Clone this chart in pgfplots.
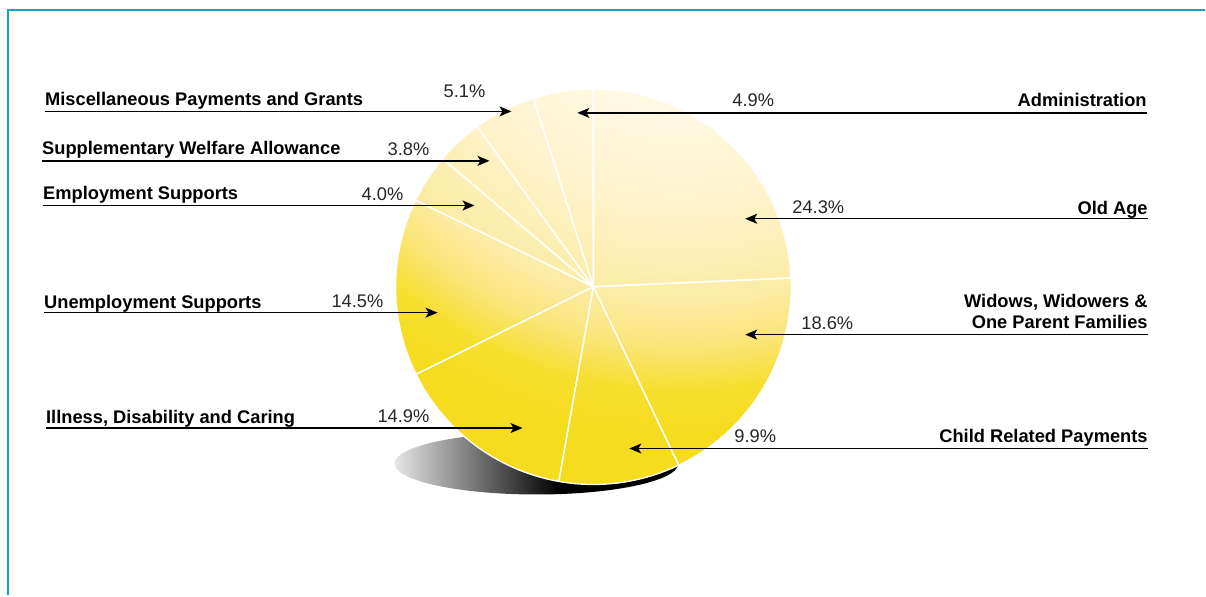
\documentclass[border=0pt]{standalone}
\usepackage{pgfplots}
\pgfplotsset{compat=1.18}
\usepackage{pgfplotstable}
\usetikzlibrary{arrows.meta}
\usepackage{fontspec}
\setmainfont{Liberation Sans}

\definecolor{frame}{HTML}{17A2C2}
\definecolor{pieA}{HTML}{FFFCEE}
\definecolor{pieB}{HTML}{FFF8E2}
\definecolor{pieC}{HTML}{FEF3CC}
\definecolor{pieD}{HTML}{FCECA8}
\definecolor{pieE}{HTML}{FAE57A}
\definecolor{pieF}{HTML}{F7DF30}
\definecolor{pieG}{HTML}{F6DC1F}

% concentric glow; its centre lies well above the disc
\pgfdeclareradialshading{pieshade}{\pgfpoint{0bp}{0bp}}{%
  color(0bp)=(pieA); color(5.7bp)=(pieB); color(9bp)=(pieC); color(12.3bp)=(pieD);
  color(14bp)=(pieE); color(15.6bp)=(pieF); color(17bp)=(pieG); color(50bp)=(pieG)}
\pgfdeclarehorizontalshading{shadowshade}{100bp}{%
  color(0bp)=(black!10); color(25bp)=(black!10); color(54bp)=(black); color(100bp)=(black)}

% share of spending, counter-clockwise from 12 o'clock
\pgfplotstableread{
pct name
4.9  Administration
5.1  Misc
3.8  Supplementary
4.0  Employment
14.5 Unemployment
14.9 Illness
9.9  Child
18.6 Widows
24.3 OldAge
}\piedata

\tikzset{
  lab/.style={font=\bfseries\fontsize{18.3}{20}\selectfont, inner sep=0pt},
  pct/.style={font=\fontsize{18.3}{20}\selectfont, text=black!85, inner sep=0pt},
  arr/.style={-{Stealth[length=12pt,width=10pt,inset=3pt]}, line width=1.4pt},
}

\begin{document}
\begin{tikzpicture}
\begin{axis}[
  scale only axis, width=1206pt, height=596pt,
  xmin=0, xmax=1206, ymin=0, ymax=596,
  hide axis, clip=false,
]
\path (axis cs:0,0) rectangle (axis cs:1206,596);
\draw[frame, line width=2.5pt] (axis cs:8,0) -- (axis cs:8,586) -- (axis cs:1206,586);

% shadow and disc
\shade[shading=shadowshade] (axis cs:537,132) ellipse[x radius=142pt, y radius=31pt];
\path[path picture={\shade[shading=pieshade]
    ([shift={(87pt,333pt)}]path picture bounding box.center) circle[radius=700pt];}]
  (axis cs:594,309) circle[radius=198pt];

% slice edges
\pgfplotstablegetrowsof{\piedata}
\pgfmathtruncatemacro\lastrow{\pgfplotsretval-1}
\def\angstart{90}
\pgfplotsforeachungrouped \i in {0,...,\lastrow}{%
  \pgfplotstablegetelem{\i}{pct}\of\piedata
  \pgfmathsetmacro\angend{\angstart+3.6*\pgfplotsretval}%
  \edef\slice{\noexpand\draw[white, line width=1.3pt, line join=round]
    (axis cs:594,309) -- ++(\angstart:198pt)
    arc[start angle=\angstart, end angle=\angend, radius=198pt] -- cycle;}%
  \slice
  \let\angstart\angend
}

% left labels
\draw[arr] (axis cs:45,484.5) -- (axis cs:512,484.5);
\node[lab, anchor=base west] at (axis cs:45,490) {Miscellaneous Payments and Grants};
\node[pct, anchor=base east] at (axis cs:486,498) {5.1\%};

\draw[arr] (axis cs:42,435) -- (axis cs:490,435);
\node[lab, anchor=base west] at (axis cs:42,441) {Supplementary Welfare Allowance};
\node[pct, anchor=base east] at (axis cs:430,440) {3.8\%};

\draw[arr] (axis cs:43,390.3) -- (axis cs:475,390.3);
\node[lab, anchor=base west] at (axis cs:43,396) {Employment Supports};
\node[pct, anchor=base east] at (axis cs:404,395) {4.0\%};

\draw[arr] (axis cs:44,283) -- (axis cs:438,283);
\node[lab, anchor=base west] at (axis cs:44,287) {Unemployment Supports};
\node[pct, anchor=base east] at (axis cs:384,288) {14.5\%};

\draw[arr] (axis cs:46,167.5) -- (axis cs:523,167.5);
\node[lab, anchor=base west] at (axis cs:46,172) {Illness, Disability and Caring};
\node[pct, anchor=base east] at (axis cs:430,173) {14.9\%};

% right labels
\draw[arr] (axis cs:1148,483) -- (axis cs:578,483);
\node[lab, anchor=base east] at (axis cs:1148,489) {Administration};
\node[pct, anchor=base west] at (axis cs:733,489) {4.9\%};

\draw[arr] (axis cs:1149,377) -- (axis cs:746,377);
\node[lab, anchor=base east] at (axis cs:1149,381) {Old Age};
\node[pct, anchor=base west] at (axis cs:793,382) {24.3\%};

\draw[arr] (axis cs:1149,261) -- (axis cs:746,261);
\node[lab, anchor=base east] at (axis cs:1149,288) {Widows, Widowers \&};
\node[lab, anchor=base east] at (axis cs:1149,267) {One Parent Families};
\node[pct, anchor=base west] at (axis cs:802,266) {18.6\%};

\draw[arr] (axis cs:1149,147) -- (axis cs:630,147);
\node[lab, anchor=base east] at (axis cs:1149,153) {Child Related Payments};
\node[pct, anchor=base west] at (axis cs:735,153) {9.9\%};
\end{axis}
\end{tikzpicture}
\end{document}
